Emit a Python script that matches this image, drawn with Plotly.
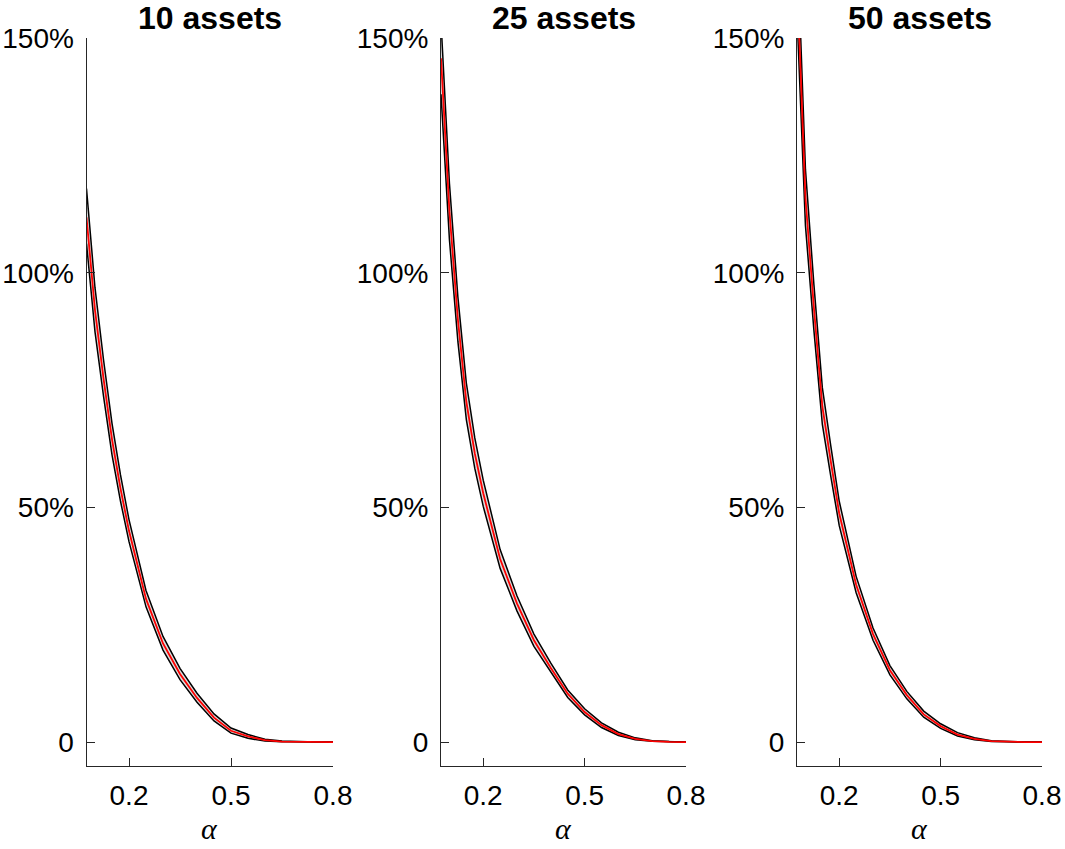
import plotly.graph_objects as go

# ---- data ----
alpha = [0.075, 0.1, 0.125, 0.15, 0.175, 0.2, 0.25, 0.3, 0.35, 0.4, 0.45, 0.5,
         0.55, 0.6, 0.65, 0.7, 0.75, 0.8]

titles = ["10 assets", "25 assets", "50 assets"]

mid10 = [1.118, 0.92, 0.775, 0.645, 0.54, 0.45, 0.305, 0.21, 0.145, 0.094, 0.052, 0.024,
         0.012, 0.004, 0.001, 0.0003, 0.0, 0.0]
hi10 = [1.179, 0.968, 0.815, 0.679, 0.569, 0.474, 0.323, 0.225, 0.157, 0.104, 0.060, 0.030,
        0.016, 0.006, 0.002, 0.0005, 0.0001, 0.0]
lo10 = [1.062, 0.874, 0.737, 0.612, 0.513, 0.427, 0.288, 0.196, 0.133, 0.085, 0.045, 0.019,
        0.008, 0.002, 0.0005, 0.0001, 0.0, 0.0]

mid25 = [1.457, 1.13, 0.90, 0.725, 0.615, 0.53, 0.39, 0.295, 0.217, 0.158, 0.103, 0.064,
         0.036, 0.017, 0.007, 0.002, 0.0005, 0.0]
hi25 = [1.535, 1.19, 0.948, 0.765, 0.648, 0.558, 0.41, 0.311, 0.23, 0.168, 0.111, 0.071,
        0.041, 0.021, 0.009, 0.003, 0.001, 0.0]
lo25 = [1.38, 1.07, 0.853, 0.687, 0.583, 0.502, 0.37, 0.279, 0.204, 0.148, 0.095, 0.058,
        0.031, 0.014, 0.005, 0.0015, 0.0003, 0.0]

mid50 = [1.63, 1.16, 0.925, 0.715, 0.598, 0.487, 0.335, 0.23, 0.153, 0.10, 0.059, 0.034,
         0.016, 0.007, 0.002, 0.0005, 0.0, 0.0]
hi50 = [1.72, 1.22, 0.975, 0.755, 0.631, 0.513, 0.353, 0.243, 0.163, 0.108, 0.066, 0.039,
        0.020, 0.009, 0.003, 0.001, 0.0001, 0.0]
lo50 = [1.55, 1.10, 0.877, 0.677, 0.566, 0.461, 0.318, 0.217, 0.143, 0.092, 0.053, 0.029,
        0.013, 0.005, 0.0012, 0.0002, 0.0, 0.0]

xtick_vals = [0.2, 0.5, 0.8]
xtick_text = ["0.2", "0.5", "0.8"]
ytick_vals = [0, 0.5, 1.0, 1.5]
ytick_text = ["0", "50%", "100%", "150%"]

panels = [(mid10, hi10, lo10), (mid25, hi25, lo25), (mid50, hi50, lo50)]

# ---- layout geometry (page body margin removed by post_script) ----
W, H = 1065, 849
ml, mr, mt, mb = 86, 23, 38, 83
pw = W - ml - mr
ph = H - mt - mb
dom_px = [(86.5, 333), (441, 686), (797, 1042)]
domains = [((a - ml) / pw, (b - ml) / pw) for a, b in dom_px]

AX = "#262626"
FONT = "Liberation Sans, Arial, sans-serif"

fig = go.Figure()
layout = dict(
    width=W, height=H,
    margin=dict(l=ml, r=mr, t=mt, b=mb),
    paper_bgcolor="white", plot_bgcolor="white",
    showlegend=False,
    font=dict(family=FONT, size=28, color=AX),
)


def page_y_to_paper(yp):
    return (mt + ph - yp) / ph


annotations = []
for i, (mid, hi, lo) in enumerate(panels):
    n = "" if i == 0 else str(i + 1)
    xa, ya = "x" + n, "y" + n
    fig.add_trace(go.Scatter(x=alpha, y=lo, mode="lines", xaxis=xa, yaxis=ya,
                             line=dict(color="black", width=1.5), hoverinfo="skip"))
    fig.add_trace(go.Scatter(x=alpha, y=hi, mode="lines", xaxis=xa, yaxis=ya,
                             fill="tonexty", fillcolor="#dcdcdc",
                             line=dict(color="black", width=1.5), hoverinfo="skip"))
    fig.add_trace(go.Scatter(x=alpha, y=mid, mode="lines", xaxis=xa, yaxis=ya,
                             line=dict(color="#ff0000", width=1.8), hoverinfo="skip"))

    layout["xaxis" + n] = dict(
        domain=list(domains[i]), anchor=ya, range=[0.075, 0.8],
        showgrid=False, zeroline=False, showline=True, linecolor=AX, linewidth=1,
        ticks="inside", ticklen=8, tickcolor=AX, tickwidth=1,
        tickvals=xtick_vals, ticktext=xtick_text,
        tickfont=dict(family=FONT, size=28, color="black"),
        ticklabelstandoff=4, automargin=False,
    )
    layout["yaxis" + n] = dict(
        domain=[0, 1], anchor=xa, range=[-0.051, 1.5],
        showgrid=False, zeroline=False, showline=True, linecolor=AX, linewidth=1,
        ticks="inside", ticklen=8, tickcolor=AX, tickwidth=1,
        tickvals=ytick_vals, ticktext=ytick_text,
        tickfont=dict(family=FONT, size=28, color="black"),
        ticklabelstandoff=6, automargin=False,
    )
    xc = (domains[i][0] + domains[i][1]) / 2
    annotations.append(dict(
        text="<b>" + titles[i] + "</b>", xref="paper", yref="paper",
        x=xc, y=page_y_to_paper(18), xanchor="center", yanchor="middle",
        showarrow=False, font=dict(family=FONT, size=32, color="black")))
    annotations.append(dict(
        text="<i>α</i>", xref="paper", yref="paper",
        x=xc, y=page_y_to_paper(829), xanchor="center", yanchor="middle",
        showarrow=False, font=dict(family="Liberation Serif, Times New Roman, serif",
                                   size=30, color="black")))

layout["annotations"] = annotations
fig.update_layout(**layout)
fig.write_html(
    "out.html",
    config={"displayModeBar": False},
    post_script="document.body.style.margin='0';document.body.style.overflow='hidden';",
)
